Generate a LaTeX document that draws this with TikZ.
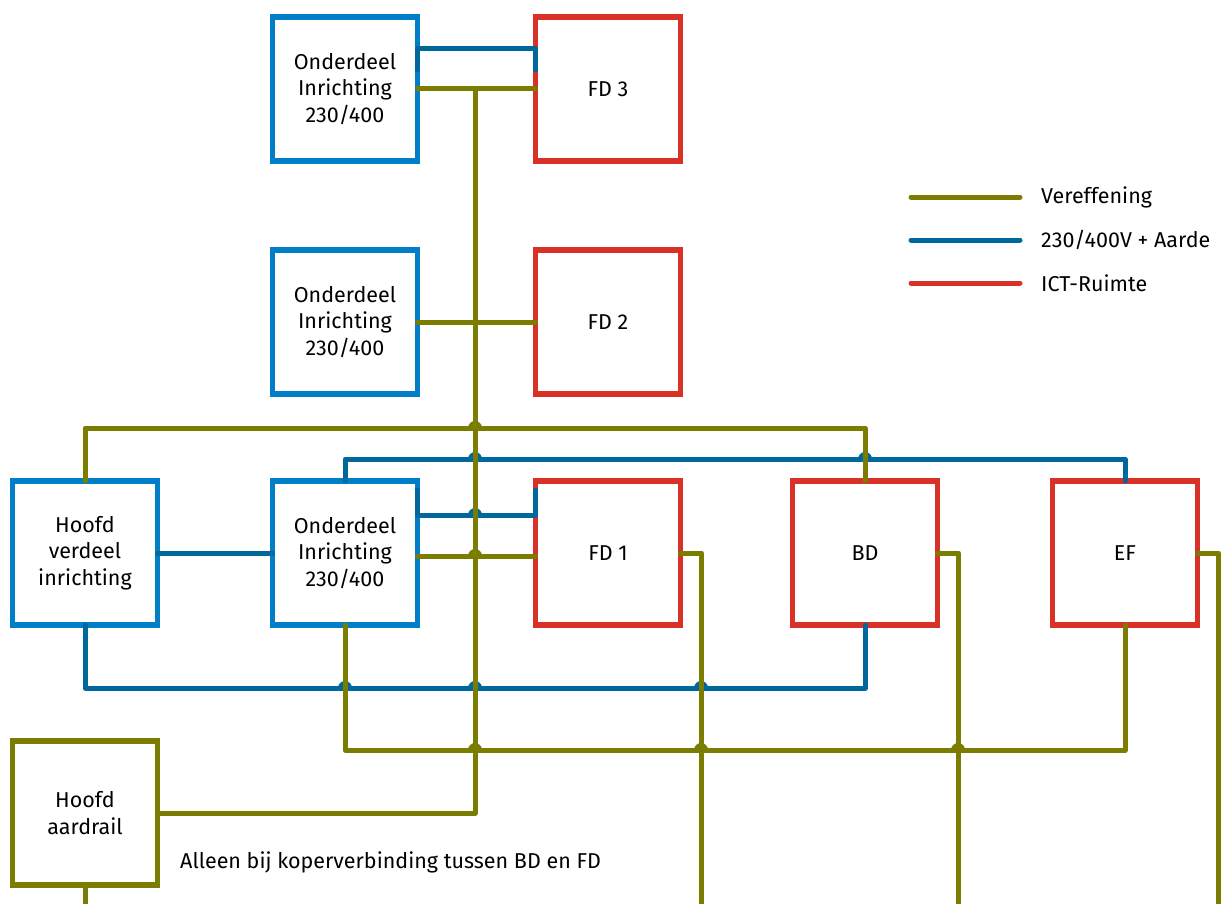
\documentclass[tikz,border=0pt]{standalone}
\usepackage{fontspec}
\setmainfont{Fira Sans}
\usetikzlibrary{positioning}
\definecolor{olijf}{RGB}{122,125,0}
\definecolor{kastblauw}{RGB}{0,126,200}
\definecolor{lijnblauw}{RGB}{0,104,157}
\definecolor{ictrood}{RGB}{216,49,40}

\begin{document}
\begin{tikzpicture}[x=1pt,y=1pt,
    kast/.style={draw=#1,line width=5.5pt,minimum width=145pt,minimum height=144pt,
      inner sep=0pt,outer sep=0pt,align=center,font=\fontsize{21.5}{26.5}\selectfont},
    ver/.style={olijf,line width=5pt,line cap=round,line join=round},
    net/.style={lijnblauw,line width=5pt,line cap=round,line join=round},
    ict/.style={ictrood,line width=5pt,line cap=round},
    tekst/.style={anchor=west,inner sep=0pt,font=\fontsize{21.5}{26.5}\selectfont}]
    \useasboundingbox (0,0) rectangle (1225,-904);

    \node[kast=kastblauw] (oi3) at (345,-89) {Onderdeel\\Inrichting\\230/400};
    \node[kast=ictrood] (fd3) at (608,-89) {FD 3};
    \node[kast=kastblauw] (oi2) at (345,-322) {Onderdeel\\Inrichting\\230/400};
    \node[kast=ictrood] (fd2) at (608,-322) {FD 2};
    \node[kast=kastblauw] (hvi) at (85,-553) {Hoofd\\verdeel\\inrichting};
    \node[kast=kastblauw] (oi1) at (345,-553) {Onderdeel\\Inrichting\\230/400};
    \node[kast=ictrood] (fd1) at (608,-553) {FD 1};
    \node[kast=ictrood] (bd) at (865,-553) {BD};
    \node[kast=ictrood] (ef) at (1125,-553) {EF};
    \node[kast=olijf] (ha) at (85,-813) {Hoofd\\aardrail};

    \coordinate (stam) at (475,-89);
    \coordinate (bus1) at (0,-428);
    \coordinate (bus2) at (0,-459);
    \coordinate (bus3) at (0,-688);
    \coordinate (bus4) at (0,-750);
    \coordinate (einde) at (0,-906);

    % 230/400V + aarde
    \draw[net] ([yshift=19pt]oi3.east) -- ([yshift=40pt]oi3.east) -- ([yshift=40pt]fd3.west) -- ([yshift=19pt]fd3.west);
    \draw[net] ([yshift=63pt]oi1.east) -- ([yshift=38pt]oi1.east) -- ([yshift=38pt]fd1.west) -- ([yshift=63pt]fd1.west);
    \draw[net] (oi1.north) -- (oi1.north |- bus2) -| (ef.north);
    \draw[net] (hvi.east) -- (oi1.west);
    \draw[net] (hvi.south) -- (hvi.south |- bus3) -| (bd.south);
    \foreach \x/\y in {475/459,865/459,475/515,345/688,475/688,701/688}
        \fill[lijnblauw] (\x-7,-\y) arc[start angle=180,end angle=0,radius=7] -- cycle;

    % vereffening
    \draw[ver] (oi3.east) -- (fd3.west);
    \draw[ver] (oi2.east) -- (fd2.west);
    \draw[ver] ([yshift=-3pt]oi1.east) -- ([yshift=-3pt]fd1.west);
    \draw[ver] (stam) -- (stam |- ha.east) -- (ha.east);
    \draw[ver] (hvi.north) -- (hvi.north |- bus1) -| (bd.north);
    \draw[ver] (oi1.south) -- (oi1.south |- bus4) -| (ef.south);
    \draw[ver] (ha.south) -- (ha.south |- einde);
    \foreach \k in {fd1,bd,ef}
        \draw[ver] (\k.east) -- ([xshift=21pt]\k.east) -- ([xshift=21pt]\k.east |- einde);
    \foreach \x/\y in {475/428,475/556,475/750,701/750,958/750}
        \fill[olijf] (\x-7,-\y) arc[start angle=180,end angle=0,radius=7] -- cycle;

    \node[tekst] (opm) at (180,-862) {Alleen bij koperverbinding tussen BD en FD};

    % legenda
    \foreach \y/\stijl/\naam [count=\i] in {197/ver/Vereffening,240/net/{230/400V + Aarde},283/ict/ICT-Ruimte} {
        \coordinate (la\i) at (911,-\y);
        \coordinate (lb\i) at (1020,-\y);
        \draw[\stijl] (la\i) -- (lb\i);
        \node[tekst] (lt\i) at (1041,-\y) {\naam};
    }
\end{tikzpicture}
\end{document}
